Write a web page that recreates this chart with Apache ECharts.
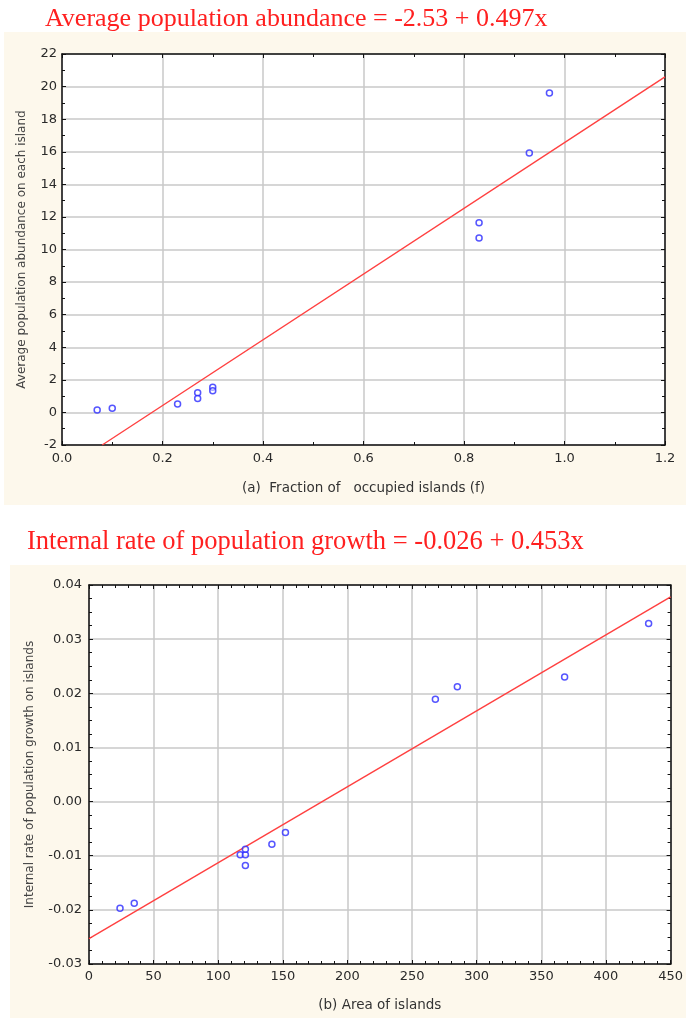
<!DOCTYPE html>
<html><head><meta charset="utf-8">
<script src="https://cdn.jsdelivr.net/npm/echarts@6/dist/echarts.min.js"></script>
<style>html,body{margin:0;padding:0;background:#fff}#c{width:686px;height:1018px}</style>
</head><body><div id="c"></div>
<script>
// ---- Data ----
const titleA = 'Average population abundance = -2.53 + 0.497x';
const titleB = 'Internal rate of population growth = -0.026 + 0.453x';
const fractionOccupied = [0.07, 0.10, 0.23, 0.27, 0.27, 0.30, 0.30, 0.83, 0.83, 0.93, 0.97];
const avgAbundance     = [0.15, 0.25, 0.52, 1.20, 0.86, 1.54, 1.33, 11.64, 10.70, 15.93, 19.60];
const fitA_x = [0.08, 1.2];
const fitA_y = [-2.0, 20.6];
const islandArea   = [24, 35, 117, 121, 121, 121, 141.5, 152, 268, 285, 368, 433];
const growthRate   = [-0.0197, -0.0188, -0.0098, -0.0098, -0.0088, -0.0118, -0.0079, -0.0057, 0.0189, 0.0212, 0.0230, 0.0329];
const fitB_x = [0, 450];
const fitB_y = [-0.0253, 0.0378];
const axisA = {xMin: 0, xMax: 1.2, xStep: 0.2, yMin: -2, yMax: 22, yStep: 2};
const axisB = {xMin: 0, xMax: 450, xStep: 50, yMin: -0.03, yMax: 0.04, yStep: 0.01};
const nameA_x = '(a)  Fraction of   occupied islands (f)';
const nameA_y = 'Average population abundance on each island';
const nameB_x = '(b) Area of islands';
const nameB_y = 'Internal rate of population growth on islands';

const zip = (a, b) => a.map((v, i) => [v, b[i]]);

const tickFont = {fontFamily: 'DejaVu Sans, sans-serif', fontSize: 13, color: '#2a2a2a'};
const nameFontX = {fontFamily: 'DejaVu Sans, sans-serif', fontSize: 13.5, color: '#333'};
const nameFontY = {fontFamily: 'DejaVu Sans, sans-serif', fontSize: 12, color: '#444'};
const axLine = {show: true, onZero: false, lineStyle: {color: '#111', width: 1.5}};
const gridLine = {show: true, lineStyle: {color: '#c8c8c8', width: 1.5}};
const titleFontA = {fontFamily: 'Liberation Serif, Times New Roman, serif', fontWeight: 'normal', fontSize: 26, color: '#ff2020'};
const titleFontB = {fontFamily: 'Liberation Serif, Times New Roman, serif', fontWeight: 'normal', fontSize: 26.5, color: '#ff2020'};

function mkAxis(o) {
  return Object.assign({
    type: 'value', axisLine: axLine,
    axisTick: {show: true, inside: true, length: 4, lineStyle: {color: '#111', width: 1}},
    minorTick: {show: true, length: 3, lineStyle: {color: '#111', width: 1}},
    splitLine: {show: false}
  }, o);
}

const chart = echarts.init(document.getElementById('c'), null, {renderer: 'canvas'});
chart.setOption({
  animation: false,
  backgroundColor: '#ffffff',
  graphic: [
    {type: 'rect', shape: {x: 4, y: 32, width: 682, height: 473}, style: {fill: '#fdf8ec'}, z: -10},
    {type: 'rect', shape: {x: 10, y: 565, width: 676, height: 453}, style: {fill: '#fdf8ec'}, z: -10}
  ],
  title: [
    {text: titleA, left: 45, top: 6, padding: 0, textStyle: titleFontA},
    {text: titleB, left: 27, top: 529, padding: 0, textStyle: titleFontB}
  ],
  grid: [
    {left: 62, top: 54, width: 603, height: 391, show: true, backgroundColor: '#ffffff', borderWidth: 0},
    {left: 89, top: 585, width: 587, height: 379, show: true, backgroundColor: '#ffffff', borderWidth: 0}
  ],
  xAxis: [
    mkAxis({gridIndex: 0, position: 'bottom', min: axisA.xMin, max: axisA.xMax, interval: axisA.xStep,
      minorTick: {show: true, splitNumber: 2, length: 3, lineStyle: {color: '#111'}},
      splitLine: gridLine,
      axisLabel: Object.assign({margin: 7, formatter: v => v.toFixed(1)}, tickFont),
      name: nameA_x, nameLocation: 'middle', nameGap: 36, nameTextStyle: nameFontX}),
    mkAxis({gridIndex: 0, position: 'top', min: axisA.xMin, max: axisA.xMax, interval: axisA.xStep,
      minorTick: {show: true, splitNumber: 2, length: 3, lineStyle: {color: '#111'}},
      axisLabel: {show: false}}),
    mkAxis({gridIndex: 1, position: 'bottom', min: axisB.xMin, max: axisB.xMax, interval: axisB.xStep,
      minorTick: {show: true, splitNumber: 5, length: 3, lineStyle: {color: '#111'}},
      splitLine: gridLine,
      axisLabel: Object.assign({margin: 6, formatter: v => String(v)}, tickFont),
      name: nameB_x, nameLocation: 'middle', nameGap: 34, nameTextStyle: nameFontX}),
    mkAxis({gridIndex: 1, position: 'top', min: axisB.xMin, max: axisB.xMax, interval: axisB.xStep,
      minorTick: {show: true, splitNumber: 5, length: 3, lineStyle: {color: '#111'}},
      axisLabel: {show: false}})
  ],
  yAxis: [
    mkAxis({gridIndex: 0, position: 'left', min: axisA.yMin, max: axisA.yMax, interval: axisA.yStep,
      minorTick: {show: true, splitNumber: 2, length: 3, lineStyle: {color: '#111'}},
      splitLine: gridLine,
      axisLabel: Object.assign({margin: 5, formatter: v => String(v)}, tickFont),
      name: nameA_y, nameLocation: 'middle', nameGap: 34, nameTextStyle: nameFontY}),
    mkAxis({gridIndex: 0, position: 'right', min: axisA.yMin, max: axisA.yMax, interval: axisA.yStep,
      minorTick: {show: true, splitNumber: 2, length: 3, lineStyle: {color: '#111'}},
      axisLabel: {show: false}}),
    mkAxis({gridIndex: 1, position: 'left', min: axisB.yMin, max: axisB.yMax, interval: axisB.yStep,
      minorTick: {show: true, splitNumber: 4, length: 3, lineStyle: {color: '#111'}},
      splitLine: gridLine,
      axisLabel: Object.assign({margin: 7, formatter: v => v.toFixed(2)}, tickFont),
      name: nameB_y, nameLocation: 'middle', nameGap: 53, nameTextStyle: nameFontY}),
    mkAxis({gridIndex: 1, position: 'right', min: axisB.yMin, max: axisB.yMax, interval: axisB.yStep,
      minorTick: {show: true, splitNumber: 4, length: 3, lineStyle: {color: '#111'}},
      axisLabel: {show: false}})
  ],
  series: [
    {type: 'line', xAxisIndex: 0, yAxisIndex: 0, data: zip(fitA_x, fitA_y), symbol: 'none',
     lineStyle: {color: '#ff4040', width: 1.4}, z: 3},
    {type: 'scatter', xAxisIndex: 0, yAxisIndex: 0, data: zip(fractionOccupied, avgAbundance),
     symbol: 'circle', symbolSize: 6,
     itemStyle: {color: 'rgba(255,255,255,0.6)', borderColor: '#2a2aff', borderWidth: 1.5}, z: 4},
    {type: 'line', xAxisIndex: 2, yAxisIndex: 2, data: zip(fitB_x, fitB_y), symbol: 'none',
     lineStyle: {color: '#ff4040', width: 1.4}, z: 3},
    {type: 'scatter', xAxisIndex: 2, yAxisIndex: 2, data: zip(islandArea, growthRate),
     symbol: 'circle', symbolSize: 6,
     itemStyle: {color: 'rgba(255,255,255,0.6)', borderColor: '#2a2aff', borderWidth: 1.5}, z: 4}
  ]
});
</script>
</body></html>
